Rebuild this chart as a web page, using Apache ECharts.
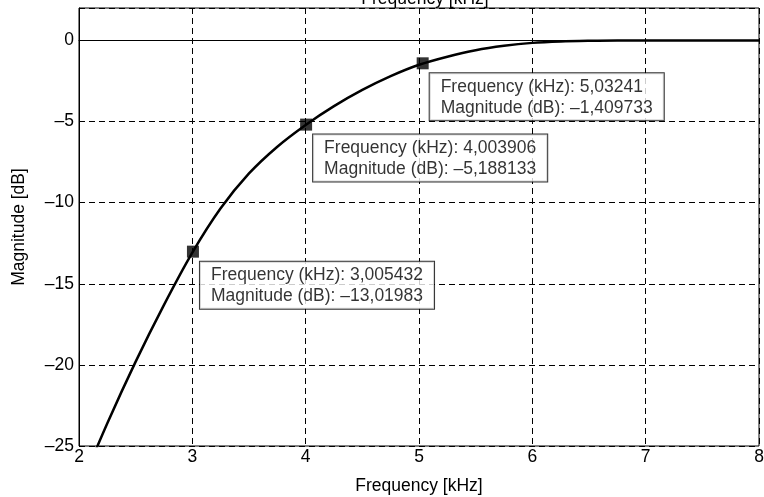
<!DOCTYPE html>
<html>
<head>
<meta charset="utf-8">
<script src="https://cdn.jsdelivr.net/npm/echarts@6/dist/echarts.min.js"></script>
<style>
    html, body { margin: 0; padding: 0; background: #fff; }
    #chart { width: 764px; height: 497px; }
</style>
</head>
<body>
<div id="chart"></div>
<script>
// 频率 (kHz) 与幅值 (dB)
var freq = [2.0, 2.25, 2.5, 2.75, 3.0, 3.25, 3.5, 3.75, 4.0, 4.25, 4.5, 4.75, 5.0, 5.25, 5.5, 5.75, 6.0, 6.25, 6.5, 6.75, 7.0, 7.5, 8.0];
var mag  = [-27.7, -23.6, -19.8, -16.3, -13.08, -10.35, -8.2, -6.55, -5.21, -4.05, -3.05, -2.2, -1.5, -1.0, -0.6, -0.33, -0.15, -0.06, -0.02, 0, 0, 0, 0];
// 数据提示点
var tipFreq = [3.005432, 4.003906, 5.03241];
var tipMag  = [-13.01983, -5.188133, -1.409733];
// 坐标轴刻度
var xTicks = [2, 3, 4, 5, 6, 7, 8];
var yTicks = [-25, -20, -15, -10, -5, 0];

var FONT = '"Liberation Sans", Arial, sans-serif';
var FS = 17.5;

function fmt( v ) {
    return String(v).replace('.', ',').replace('-', '–');
}

var lineData = [];
for ( var i = 0; i < freq.length; i++ ){
    lineData.push([ freq[ i ], mag[ i ] ]);
}
var tipData = [];
for ( var j = 0; j < tipFreq.length; j++ ){
    tipData.push([ tipFreq[ j ], tipMag[ j ] ]);
}

var myChart = echarts.init(document.getElementById('chart'));
var option = {
    animation: false,
    title: {
        text: 'Frequency [kHz]',
        left: 420,
        top: -15,
        textAlign: 'center',
        textStyle: { fontFamily: FONT, fontSize: FS, fontWeight: 'normal', color: '#000' }
    },
    grid: {
        left: 79, right: 5, top: 8, bottom: 51,
        containLabel: false,
        outerBoundsMode: 'none',
        show: true, borderColor: '#000', borderWidth: 1, backgroundColor: '#fff'
    },
    xAxis: {
        type: 'value',
        min: xTicks[0], max: xTicks[xTicks.length - 1], interval: 1,
        name: 'Frequency [kHz]',
        nameLocation: 'middle',
        nameGap: 31,
        nameTextStyle: { fontFamily: FONT, fontSize: FS, color: '#000' },
        axisLine: { lineStyle: { color: '#000', width: 1 } },
        axisTick: { show: false },
        axisLabel: { fontFamily: FONT, fontSize: FS, color: '#000', margin: 2 },
        splitLine: { show: true, lineStyle: { color: '#000', type: [6, 4], width: 1 } }
    },
    yAxis: {
        type: 'value',
        min: yTicks[0], max: 2, interval: 5,
        name: 'Magnitude [dB]',
        nameLocation: 'middle',
        nameGap: 51,
        nameTextStyle: { fontFamily: FONT, fontSize: FS, color: '#000' },
        axisLine: { show: true, lineStyle: { color: '#000', width: 1 } },
        axisTick: { show: false },
        axisLabel: {
            fontFamily: FONT, fontSize: FS, color: '#000', margin: 5,
            formatter: function ( v ) {
                return yTicks.indexOf(v) < 0 ? '' : String(v).replace('-', '–');
            }
        },
        splitLine: { show: true, lineStyle: { color: '#000', type: [6, 4], width: 1 } }
    },
    series: [
        {
            type: 'line',
            data: lineData,
            smooth: 0.3,
            symbol: 'none',
            clip: true,
            lineStyle: { color: '#000', width: 2.5 }
        },
        {
            type: 'scatter',
            data: tipData,
            symbol: 'rect',
            symbolSize: 12,
            itemStyle: { color: '#000' },
            z: 5,
            label: {
                show: true,
                position: [13, 16],
                align: 'left',
                verticalAlign: 'top',
                fontFamily: FONT,
                fontSize: FS,
                lineHeight: 21,
                color: '#000',
                backgroundColor: '#fff',
                borderColor: '#000',
                borderWidth: 1,
                padding: [3, 11, 2, 11],
                formatter: function ( p ) {
                    return 'Frequency (kHz): ' + fmt(p.value[0]) + '\nMagnitude (dB): ' + fmt(p.value[1]);
                }
            }
        }
    ]
};
myChart.setOption(option);
</script>
</body>
</html>
